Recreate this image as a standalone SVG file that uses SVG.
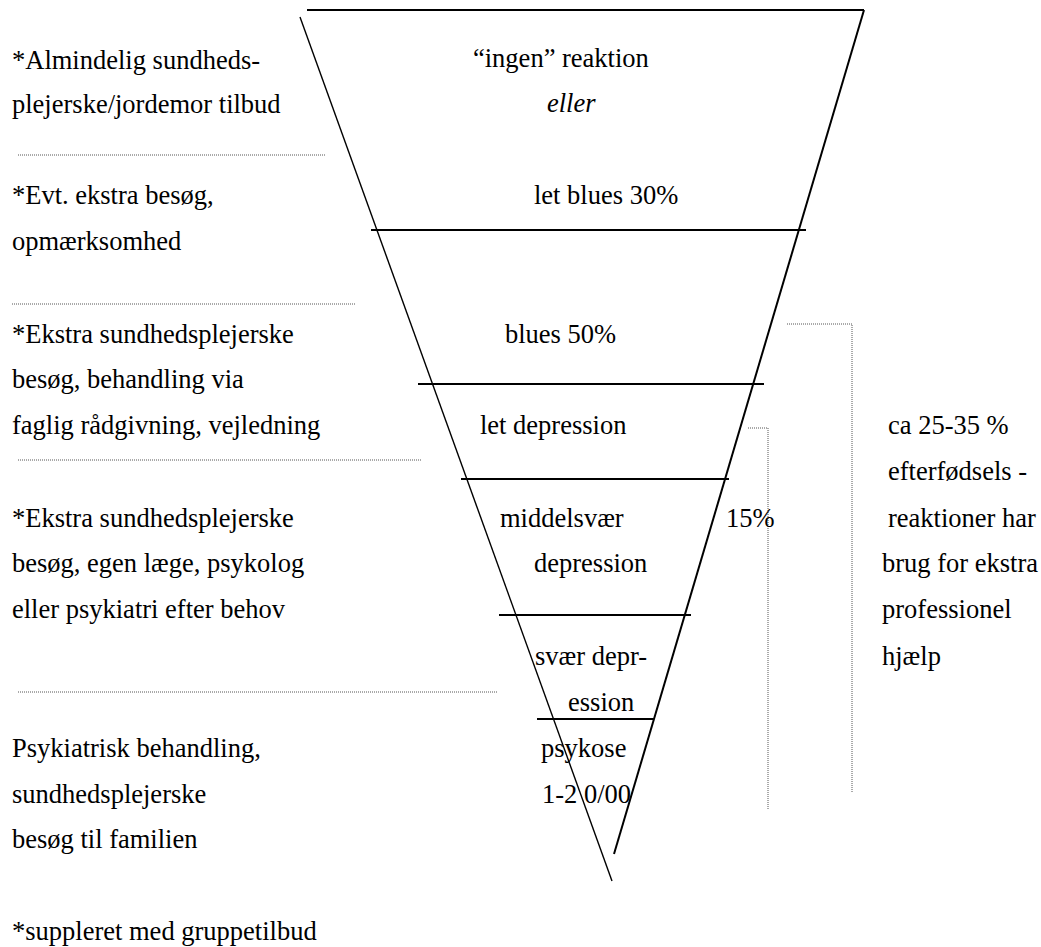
<svg xmlns="http://www.w3.org/2000/svg" width="1041" height="947" viewBox="0 0 1041 947">
<style>
text{font-family:"Liberation Serif","Times New Roman",serif;font-size:26.5px;fill:#000}
.it{font-style:italic}
.solid{stroke:#000;stroke-width:2;fill:none}
.thin{stroke:#000;stroke-width:1.4;fill:none}
.dot{stroke:#555;stroke-width:1;stroke-dasharray:1 1;fill:none}
</style>
<rect width="1041" height="947" fill="#fff"/>
<g id="funnel">
<line class="solid" x1="307" y1="10" x2="864" y2="10"/>
<line class="thin" x1="300" y1="17" x2="612" y2="881"/>
<line class="solid" stroke-width="2.3" x1="864" y1="10" x2="614" y2="854"/>
<line class="solid" x1="371" y1="230" x2="806" y2="230"/>
<line class="solid" x1="418" y1="384" x2="764" y2="384"/>
<line class="solid" x1="461" y1="479" x2="729" y2="479"/>
<line class="solid" x1="499" y1="615" x2="691" y2="615"/>
<line class="solid" x1="537" y1="719" x2="654" y2="719"/>
</g>
<g id="separators">
<line class="dot" x1="18" y1="155" x2="325" y2="155"/>
<line class="dot" x1="12" y1="304" x2="356" y2="304"/>
<line class="dot" x1="18" y1="460" x2="422" y2="460"/>
<line class="dot" x1="18" y1="692" x2="498" y2="692"/>
</g>
<g id="brackets">
<polyline class="dot" points="787,324 852,324 852,792"/>
<polyline class="dot" points="748,428 768,428 768,810"/>
</g>
<g id="left-labels">
<text x="12" y="69">*Almindelig sundheds-</text>
<text x="12" y="113">plejerske/jordemor tilbud</text>
<text x="12" y="204">*Evt. ekstra besøg,</text>
<text x="12" y="250">opmærksomhed</text>
<text x="12" y="343">*Ekstra sundhedsplejerske</text>
<text x="12" y="388">besøg, behandling via</text>
<text x="12" y="434">faglig rådgivning, vejledning</text>
<text x="12" y="527">*Ekstra sundhedsplejerske</text>
<text x="12" y="572">besøg, egen læge, psykolog</text>
<text x="12" y="618">eller psykiatri efter behov</text>
<text x="12" y="757">Psykiatrisk behandling,</text>
<text x="12" y="803">sundhedsplejerske</text>
<text x="12" y="848">besøg til familien</text>
<text x="12" y="940">*suppleret med gruppetilbud</text>
</g>
<g id="funnel-labels">
<text x="473" y="67">“ingen” reaktion</text>
<text class="it" x="547" y="112">eller</text>
<text x="534" y="204">let blues 30%</text>
<text x="505" y="343">blues 50%</text>
<text x="480" y="434">let depression</text>
<text x="500" y="527">middelsvær</text>
<text x="726" y="527">15%</text>
<text x="534" y="572">depression</text>
<text x="535" y="665">svær depr-</text>
<text x="568" y="711">ession</text>
<text x="541" y="757">psykose</text>
<text x="542" y="803">1-2 0/00</text>
</g>
<g id="right-labels">
<text x="888" y="434">ca 25-35 %</text>
<text x="888" y="480">efterfødsels -</text>
<text x="888" y="527">reaktioner har</text>
<text x="882" y="572">brug for ekstra</text>
<text x="882" y="618">professionel</text>
<text x="882" y="665">hjælp</text>
</g>
</svg>
